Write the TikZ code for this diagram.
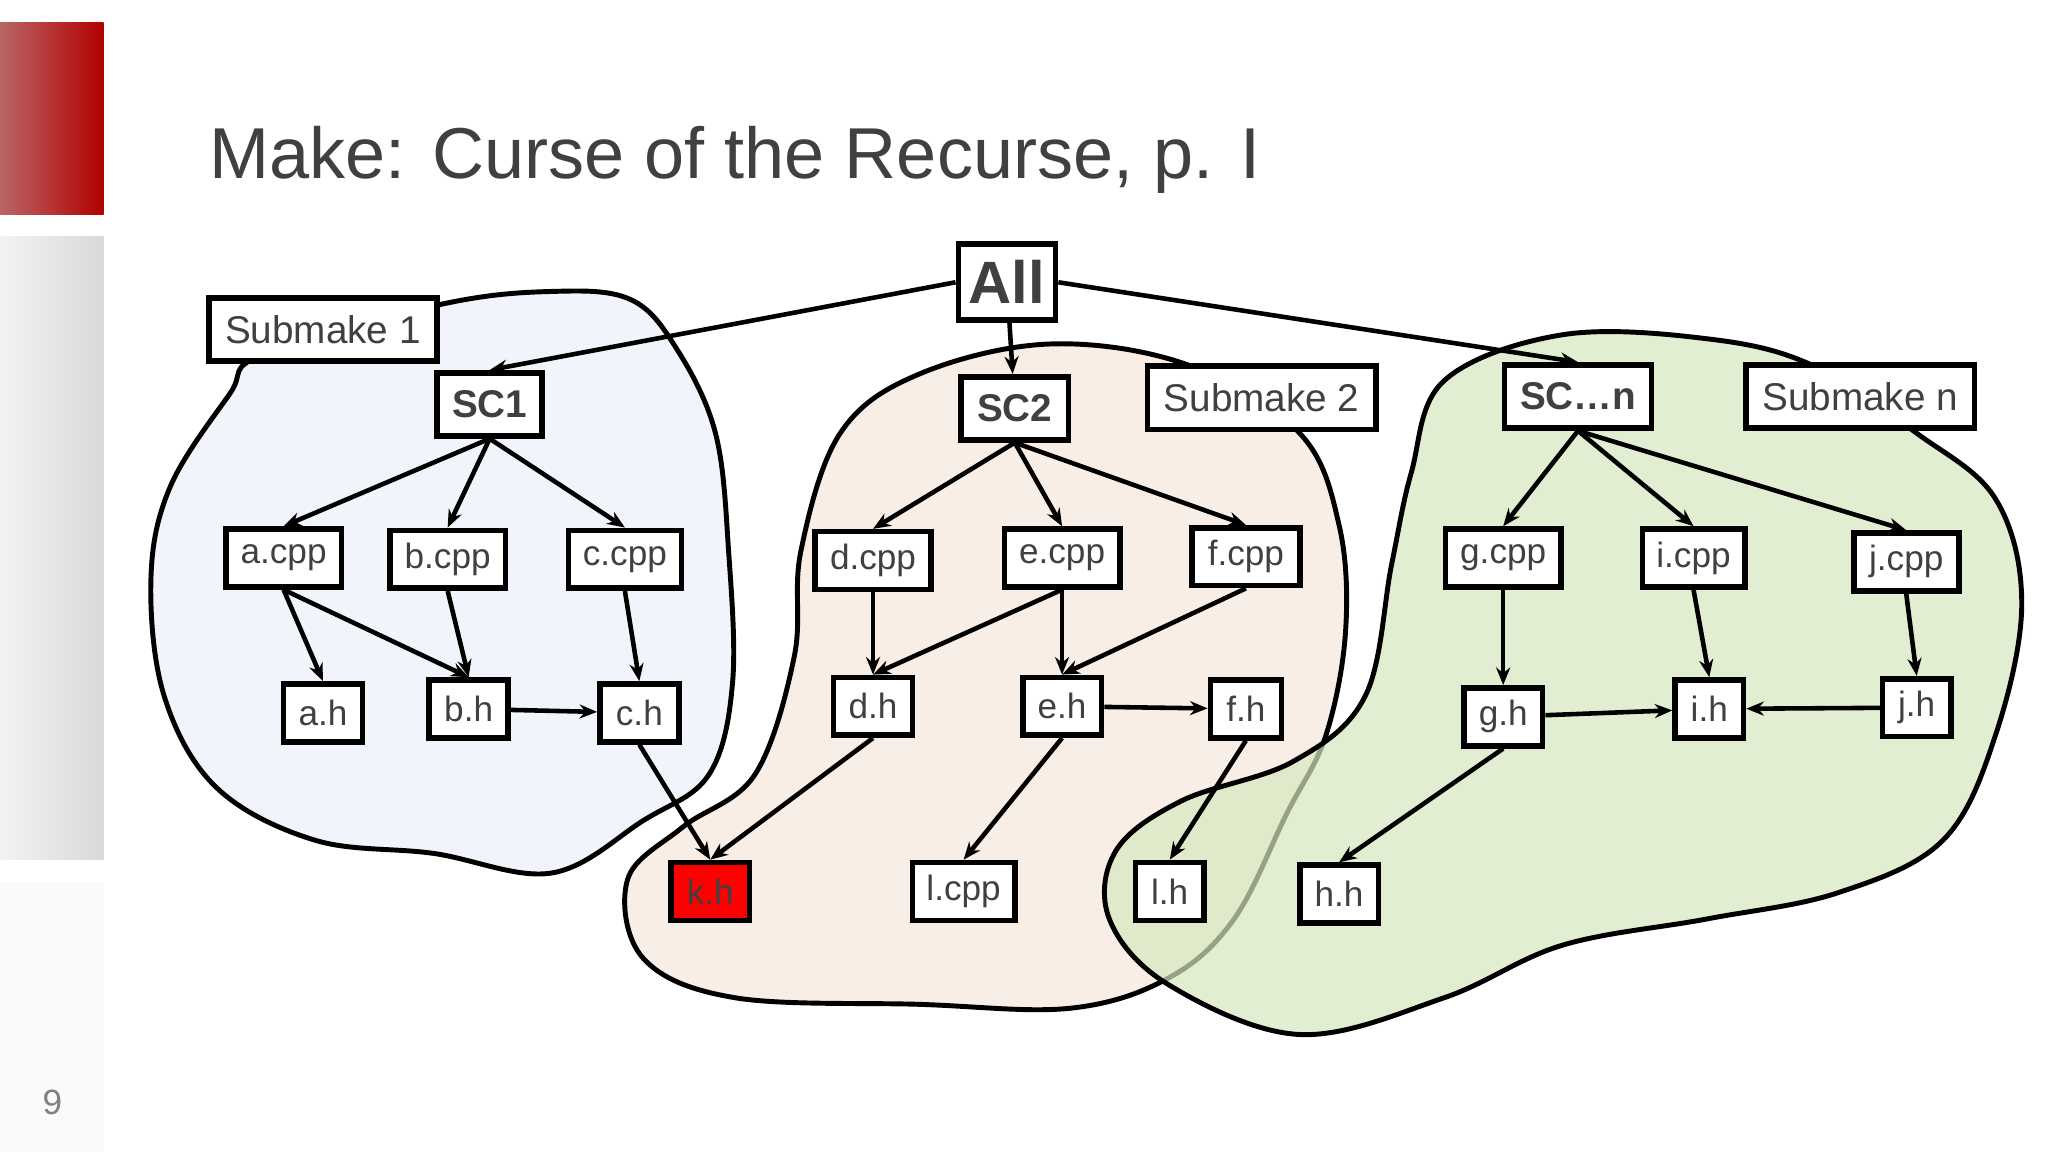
\documentclass[tikz,border=0pt]{standalone}
\usepackage{fontspec}
\setmainfont{Liberation Sans}
\usetikzlibrary{arrows.meta}
\definecolor{txt}{HTML}{404040}
\definecolor{blueb}{HTML}{F1F4FB}
\definecolor{orangeb}{HTML}{F9EEE6}
\definecolor{greenb}{HTML}{D6E8BE}
\begin{document}
\begin{tikzpicture}[x=0.013128cm,y=-0.013128cm,
  box/.style={draw=black,line width=1.6pt,fill=white,text=txt,font=\fontsize{10pt}{12pt}\selectfont,inner sep=0pt},
  bx/.style={box,minimum width=#1*0.013128cm,minimum height=0.578cm},
  bb/.style={box,minimum width=#1*0.013128cm,minimum height=0.63cm,font=\fontsize{11pt}{13pt}\selectfont\bfseries},
  lab/.style={box,minimum width=#1*0.013128cm,minimum height=0.63cm,font=\fontsize{11pt}{13pt}\selectfont},
  ar/.style={-{Stealth[length=5pt,width=4pt]},line width=1.3pt},
  blob/.style={draw=black,line width=1.4pt}]
\useasboundingbox (0,0) rectangle (1560,877.5);
\fill[white] (0,0) rectangle (1560,877.5);
% sidebar
\shade[left color=red!55!black!60!white, right color=red!70!black] (0,17) rectangle (79,163);
\shade[left color=gray!10, right color=gray!30] (0,180) rectangle (79,655);
\fill[gray!4] (0,672) rectangle (79,877.5);
\node[text=gray,font=\fontsize{10pt}{12pt}\selectfont] (pg) at (40,840) {9};
\node[anchor=west,text=txt,font=\fontsize{20.5pt}{24pt}\selectfont] (title) at (150,122) {Make: Curse of the Recurse, p. I};
% blobs
\draw[blob,fill=blueb] plot[smooth cycle,tension=0.6] coordinates{(335,232)(420,222)(480,228)(515,265)(545,330)(555,420)(558,520)(540,590)(490,625)(420,665)(330,650)(240,640)(165,600)(125,530)(115,440)(130,370)(175,300)(200,270)};
\draw[blob,fill=orangeb] plot[smooth cycle,tension=0.6] coordinates{(640,330)(700,285)(800,262)(905,278)(990,330)(1020,400)(1025,480)(1010,560)(980,620)(940,700)(890,745)(815,768)(700,765)(560,760)(490,730)(478,670)(520,630)(575,590)(605,500)(610,420)};
\draw[blob,fill=greenb,fill opacity=0.7] plot[smooth cycle,tension=0.6] coordinates{(1100,290)(1190,255)(1300,258)(1380,278)(1460,330)(1520,380)(1540,460)(1520,560)(1480,640)(1400,680)(1300,700)(1190,720)(1100,760)(990,788)(890,750)(845,700)(850,648)(900,610)(985,580)(1040,530)(1060,430)(1075,360)};
% nodes
\node[box,minimum width=74*0.013128cm,minimum height=0.76cm,font=\fontsize{17pt}{20pt}\selectfont\bfseries] (all) at (767,215) {All};
\node[lab=174] (sm1) at (246,251) {Submake 1};
\node[lab=174] (sm2) at (961,303) {Submake 2};
\node[lab=174] (smn) at (1417,302) {Submake n};
\node[bb=80] (sc1) at (373,308) {SC1};
\node[bb=82] (sc2) at (773,311) {SC2};
\node[bb=112] (scn) at (1202,302) {SC…n};
\node[bx=88] (acpp) at (216,425) {a.cpp};
\node[bx=88] (bcpp) at (341,426) {b.cpp};
\node[bx=86] (ccpp) at (476,426) {c.cpp};
\node[bx=88] (dcpp) at (665,427) {d.cpp};
\node[bx=88] (ecpp) at (809,425) {e.cpp};
\node[bx=82] (fcpp) at (949,424) {f.cpp};
\node[bx=88] (gcpp) at (1145,425) {g.cpp};
\node[bx=78] (icpp) at (1290,425) {i.cpp};
\node[bx=80] (jcpp) at (1452,428) {j.cpp};
\node[bx=60] (ah) at (246,543) {a.h};
\node[bx=60] (bh) at (357,540) {b.h};
\node[bx=60] (ch) at (487,543) {c.h};
\node[bx=60] (dh) at (665,538) {d.h};
\node[bx=60] (eh) at (809,538) {e.h};
\node[bx=54] (fh) at (949,540) {f.h};
\node[bx=60] (gh) at (1145,546) {g.h};
\node[bx=52] (ih) at (1302,540) {i.h};
\node[bx=52] (jh) at (1460,539) {j.h};
\node[bx=60,fill=red] (kh) at (541,679) {k.h};
\node[bx=78] (lcpp) at (734,679) {l.cpp};
\node[bx=52] (lh) at (891,679) {l.h};
\node[bx=60] (hh) at (1020,681) {h.h};
% edges
\draw[ar] (all.west) -- (sc1.north);
\draw[ar] (all) -- (sc2);
\draw[ar] (all.east) -- (scn.north);
\foreach \t in {acpp,bcpp,ccpp} \draw[ar] (sc1.south) -- (\t.north);
\foreach \t in {dcpp,ecpp,fcpp} \draw[ar] (sc2.south) -- (\t.north);
\foreach \t in {gcpp,icpp,jcpp} \draw[ar] (scn.south) -- (\t.north);
\draw[ar] (acpp.south) -- (ah.north);
\draw[ar] (acpp.south) -- (bh.north);
\draw[ar] (bcpp.south) -- (bh.north);
\draw[ar] (ccpp.south) -- (ch.north);
\draw[ar] (bh) -- (ch);
\draw[ar] (ch.south) -- (kh.north);
\draw[ar] (dcpp.south) -- (dh.north);
\draw[ar] (ecpp.south) -- (dh.north);
\draw[ar] (ecpp.south) -- (eh.north);
\draw[ar] (fcpp.south) -- (eh.north);
\draw[ar] (eh) -- (fh);
\draw[ar] (dh.south) -- (kh.north);
\draw[ar] (eh.south) -- (lcpp.north);
\draw[ar] (fh.south) -- (lh.north);
\draw[ar] (gcpp.south) -- (gh.north);
\draw[ar] (icpp.south) -- (ih.north);
\draw[ar] (jcpp.south) -- (jh.north);
\draw[ar] (gh) -- (ih);
\draw[ar] (jh) -- (ih);
\draw[ar] (gh.south) -- (hh.north);
\end{tikzpicture}
\end{document}
